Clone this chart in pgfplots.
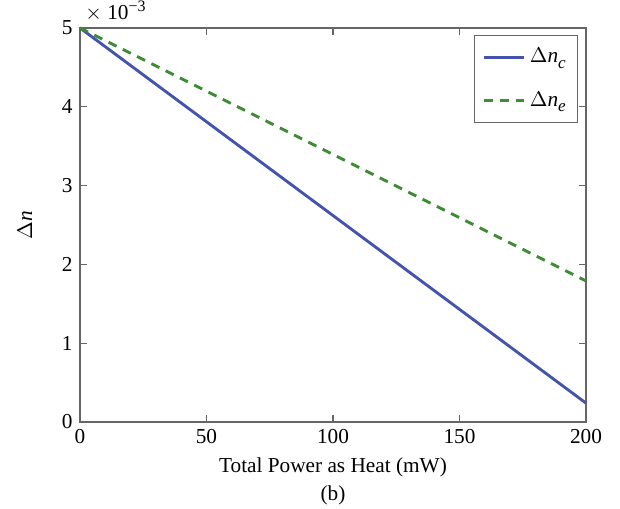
\documentclass[border=0pt]{standalone}
\usepackage{fontspec}
\setmainfont{Liberation Serif}
\usepackage{pgfplots}
\pgfplotsset{compat=1.18}
\definecolor{cblue}{RGB}{68,84,172}
\definecolor{cgreen}{RGB}{62,140,52}
\begin{document}
\begin{tikzpicture}
\useasboundingbox (0pt,0pt) rectangle (291.4pt,238.76pt);
\begin{axis}[
  at={(37.6pt,40.42pt)}, anchor=south west,
  scale only axis, width=237.8pt, height=185.2pt,
  xmin=0, xmax=200, ymin=0, ymax=5,
  xtick={0,50,100,150,200}, ytick={0,1,2,3,4,5},
  tick align=inside, tick pos=both,
  major tick length=3.5pt,
  axis line style={gray!80!black, line width=0.6pt},
  every tick/.style={gray!80!black, line width=0.5pt},
  /pgf/number format/assume math mode=true,
  tick label style={font=\fontsize{10}{12}\selectfont},
  xlabel={Total Power as Heat (mW)},
  ylabel={$\Delta$\textit{n}},
  label style={font=\fontsize{10}{12}\selectfont},
  xlabel style={at={(axis description cs:0.5,-0.114)}, anchor=center},
  ylabel style={at={(axis description cs:-0.109,0.5)}, anchor=center},
  legend style={at={(0.984,0.982)}, anchor=north east, draw=gray!80!black,
    font=\fontsize{10}{12}\selectfont, row sep=8pt, inner xsep=3.5pt, inner ysep=4pt},
  legend cell align=left,
  legend image code/.code={\draw[#1] (0pt,0pt) -- (19pt,0pt);},
  clip=false,
]
\addplot[cblue, line width=1.35pt] coordinates {(0,5.0) (200,0.24)};
\addlegendentry{$\Delta$\textit{n}\raisebox{-0.6ex}{\fontsize{8}{9}\selectfont\textit{c}}}
\addplot[cgreen, line width=1.35pt, dash pattern=on 4.2pt off 3.3pt] coordinates {(0,5.0) (200,1.79)};
\addlegendentry{$\Delta$\textit{n}\raisebox{-0.6ex}{\fontsize{8}{9}\selectfont\textit{e}}}
\node[anchor=base west, font=\fontsize{10}{12}\selectfont, inner sep=0pt] at (rel axis cs:0.01,1.022) {$\times$ 10\raisebox{0.8ex}{\fontsize{7.5}{8}\selectfont −3}};
\node[font=\fontsize{10}{12}\selectfont] at (axis description cs:0.5,-0.185) {(b)};
\end{axis}
\end{tikzpicture}
\end{document}
